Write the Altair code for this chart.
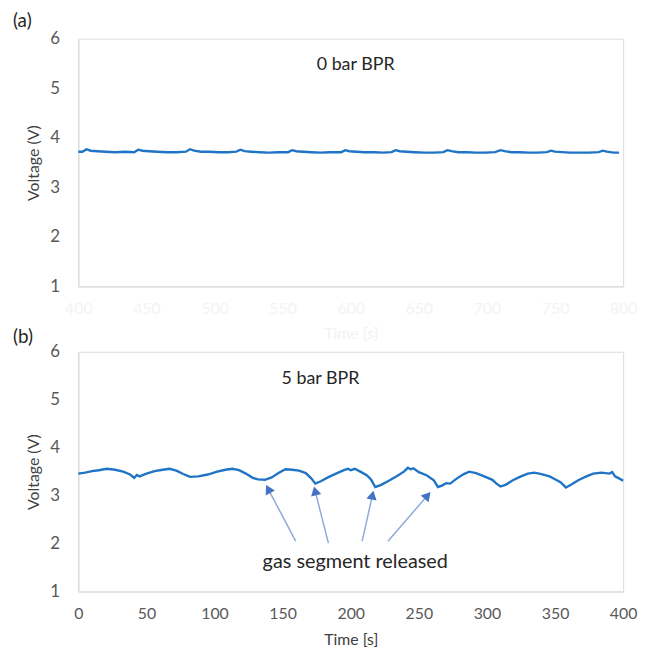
import altair as alt
import pandas as pd

# ---- data ----
top_time = [400, 403, 406, 409, 414, 420, 427, 434, 441, 444, 447, 452, 458, 465, 472, 479,
            482, 485, 490, 496, 503, 510, 516, 519, 522, 527, 533, 540, 547, 554, 557, 560,
            565, 571, 578, 585, 593, 596, 599, 604, 610, 617, 624, 630, 633, 636, 641, 647,
            654, 661, 668, 671, 674, 679, 685, 692, 699, 706, 710, 713, 718, 724, 731, 737,
            744, 747, 750, 755, 761, 768, 775, 782, 785, 788, 793, 797]
top_volt = [3.72, 3.72, 3.77, 3.74, 3.73, 3.72, 3.71, 3.72, 3.71, 3.76, 3.74, 3.73, 3.72, 3.71, 3.71, 3.72,
            3.77, 3.74, 3.72, 3.72, 3.71, 3.71, 3.72, 3.76, 3.73, 3.72, 3.71, 3.70, 3.71, 3.71, 3.75, 3.73,
            3.72, 3.71, 3.70, 3.71, 3.71, 3.75, 3.73, 3.72, 3.71, 3.71, 3.70, 3.71, 3.75, 3.73, 3.72, 3.71,
            3.70, 3.70, 3.71, 3.75, 3.73, 3.71, 3.71, 3.70, 3.70, 3.71, 3.75, 3.73, 3.71, 3.71, 3.70, 3.70,
            3.71, 3.74, 3.72, 3.71, 3.70, 3.70, 3.70, 3.71, 3.74, 3.72, 3.70, 3.70]

bot_time = [0, 5, 10, 15, 21, 27, 33, 38, 41, 43, 45, 50, 56, 62, 67, 72, 77, 82, 88, 95,
            102, 108, 113, 118, 123, 128, 132, 137, 142, 147, 152, 157, 162, 167, 171, 174, 178,
            184, 190, 195, 198, 200, 203, 207, 212, 215, 218, 222, 228, 234, 239, 242, 244, 246,
            250, 256, 261, 264, 267, 270, 273, 278, 283, 287, 292, 298, 304, 307, 310, 314, 319,
            325, 330, 335, 340, 346, 350, 354, 358, 362, 367, 373, 378, 384, 390, 392, 394, 397, 400]
bot_volt = [3.46, 3.48, 3.51, 3.53, 3.56, 3.54, 3.50, 3.44, 3.37, 3.43, 3.40, 3.46, 3.51, 3.54, 3.56, 3.52,
            3.45, 3.39, 3.40, 3.44, 3.50, 3.54, 3.56, 3.53, 3.46, 3.37, 3.34, 3.33, 3.38, 3.47, 3.55, 3.54,
            3.52, 3.47, 3.36, 3.25, 3.30, 3.39, 3.47, 3.53, 3.56, 3.53, 3.56, 3.50, 3.42, 3.33, 3.18, 3.22,
            3.31, 3.41, 3.50, 3.58, 3.55, 3.57, 3.49, 3.42, 3.32, 3.18, 3.21, 3.26, 3.25, 3.36, 3.45, 3.50,
            3.47, 3.40, 3.33, 3.25, 3.19, 3.23, 3.32, 3.40, 3.46, 3.48, 3.45, 3.40, 3.34, 3.28, 3.17, 3.23,
            3.32, 3.40, 3.46, 3.48, 3.46, 3.49, 3.40, 3.36, 3.31]

x_ticks_top = [400, 450, 500, 550, 600, 650, 700, 750, 800]
x_ticks_bot = [0, 50, 100, 150, 200, 250, 300, 350, 400]
y_ticks = [1, 2, 3, 4, 5, 6]

# annotation arrows (tail -> head, in data units of the lower panel)
arrow_t0 = [159.6, 183.6, 208.4, 227.3]
arrow_v0 = [2.05, 2.01, 2.05, 2.05]
arrow_t1 = [139.9, 174.1, 215.7, 255.7]
arrow_v1 = [3.11, 3.07, 2.98, 2.98]
arrow_angle = [332, 346, 12, 41]

FONT = "Lato"
LINE = "#1f74c6"
W = 550

def axes(ticks, lo, hi, label_color, title, title_color):
    x = alt.X("t:Q", scale=alt.Scale(domain=[lo, hi], nice=False, zero=False),
              axis=alt.Axis(values=ticks, title=title, labelColor=label_color,
                            titleColor=title_color, grid=False, ticks=False,
                            domainColor="#d9d9d9", labelFontSize=16, titleFontSize=16,
                            labelFont=FONT, titleFont=FONT, titleFontWeight="normal",
                            labelPadding=14, titlePadding=10, labelFlush=False))
    y = alt.Y("v:Q", scale=alt.Scale(domain=[1, 6], nice=False, zero=False),
              axis=alt.Axis(values=y_ticks, title="Voltage (V)", labelColor="#595959",
                            titleColor="#404040", grid=False, ticks=False,
                            domainColor="#d9d9d9", labelFontSize=17, titleFontSize=16,
                            labelFont=FONT, titleFont=FONT, titleFontWeight="normal",
                            labelPadding=19, titlePadding=8, labelFlush=False))
    return x, y

# ---- top panel ----
top_df = pd.DataFrame({"t": top_time, "v": top_volt})
xt, yt = axes(x_ticks_top, 400, 800, "#f3f3f3", "Time [s]", "#f3f3f3")
top_line = alt.Chart(top_df).mark_line(color=LINE, strokeWidth=2.4).encode(x=xt, y=yt)
top_lab = alt.Chart(pd.DataFrame({"t": [603.6], "v": [5.46], "s": ["0 bar BPR"]})).mark_text(
    font=FONT, fontSize=18, color="#262626").encode(x="t:Q", y="v:Q", text="s:N")
top_tag = alt.Chart(pd.DataFrame({"s": ["(a)"]})).mark_text(
    font=FONT, fontSize=19, color="#262626", align="left", baseline="top").encode(
    x=alt.value(-66), y=alt.value(-27), text="s:N")
top = alt.layer(top_line, top_lab, top_tag).properties(width=W, height=250)

# ---- bottom panel ----
bot_df = pd.DataFrame({"t": bot_time, "v": bot_volt})
xb, yb = axes(x_ticks_bot, 0, 400, "#595959", "Time [s]", "#404040")
bot_line = alt.Chart(bot_df).mark_line(color=LINE, strokeWidth=2.4).encode(x=xb, y=yb)
arr_df = pd.DataFrame({"t": arrow_t0, "v": arrow_v0, "t2": arrow_t1, "v2": arrow_v1,
                       "a": arrow_angle})
arr_rule = alt.Chart(arr_df).mark_rule(color="#8faadc", strokeWidth=1.5).encode(
    x="t:Q", y="v:Q", x2="t2:Q", y2="v2:Q")
arr_head = alt.Chart(arr_df).mark_point(shape="triangle", filled=True, color="#4472c4",
                                        size=110, opacity=1).encode(
    x="t2:Q", y="v2:Q", angle=alt.Angle("a:Q", scale=None))
bot_lab = alt.Chart(pd.DataFrame({"t": [177.8], "v": [5.44], "s": ["5 bar BPR"]})).mark_text(
    font=FONT, fontSize=18, color="#262626").encode(x="t:Q", y="v:Q", text="s:N")
ann = alt.Chart(pd.DataFrame({"t": [203.3], "v": [1.62], "s": ["gas segment released"]})).mark_text(
    font=FONT, fontSize=20, color="#262626").encode(x="t:Q", y="v:Q", text="s:N")
bot_tag = alt.Chart(pd.DataFrame({"s": ["(b)"]})).mark_text(
    font=FONT, fontSize=19, color="#262626", align="left", baseline="top").encode(
    x=alt.value(-66), y=alt.value(-24), text="s:N")
bot = alt.layer(bot_line, arr_rule, arr_head, bot_lab, ann, bot_tag).properties(width=W, height=242)

chart = alt.vconcat(top, bot, spacing=66, bounds="flush").properties(
    padding={"left": 4, "top": 0, "right": 0, "bottom": 0}
).configure_view(stroke=None).configure(background="white")

chart.save("out.html", embed_options={"renderer": "svg", "actions": False})
